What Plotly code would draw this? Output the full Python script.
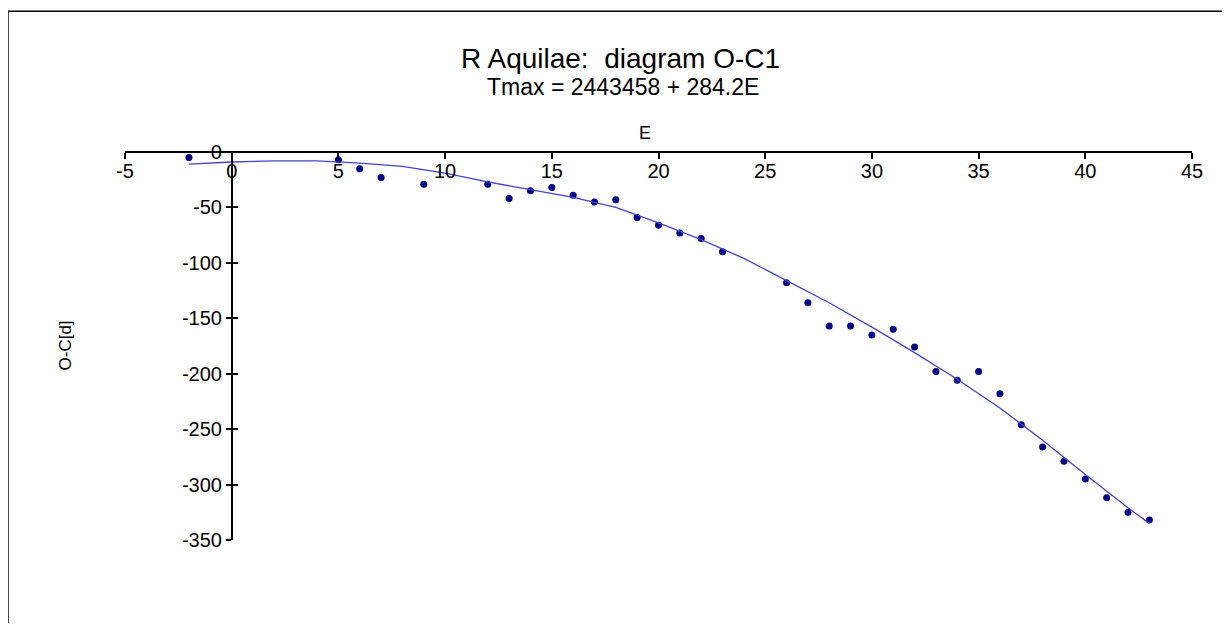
import plotly.graph_objects as go

# --- data ---
E_obs = [-2, 1, 5, 6, 7, 9, 12, 13, 14, 15, 16, 17, 18, 19, 20, 21, 22, 23,
         26, 27, 28, 29, 30, 31, 32, 33, 34, 35, 36, 37, 38, 39, 40, 41, 42, 43]
OC_obs = [-5, 1, -7, -15, -23, -29, -29, -42, -35, -32, -39, -45, -43, -59, -66, -73, -78, -90,
          -118, -136, -157, -157, -165, -160, -176, -198, -206, -198, -218, -246, -266, -279, -295, -312, -325, -332]

# trend line (quadratic fit as drawn)
E_fit = [-2, 0, 2, 4, 6, 8, 10, 12, 14, 16, 18, 20, 22, 24, 26, 28, 30, 32, 34, 36, 38, 40, 42, 43]
OC_fit = [-11, -9, -8, -8, -10, -13, -19, -27, -34, -41, -50, -64, -79, -96, -116, -136,
          -158, -181, -205, -231, -260, -291, -321, -335]

# tick labels (plain hyphen minus like the original)
x_ticks = [-5, 0, 5, 10, 15, 20, 25, 30, 35, 40, 45]
x_ticktext = ["-5", "0", "5", "10", "15", "20", "25", "30", "35", "40", "45"]
y_ticks = [0, -50, -100, -150, -200, -250, -300, -350]
y_ticktext = ["0", "-50", "-100", "-150", "-200", "-250", "-300", "-350"]

FONT = "Liberation Sans, Arial, sans-serif"
POINT_COLOR = "#000080"
LINE_COLOR = "#4444C4"

fig = go.Figure()

fig.add_trace(go.Scatter(
    x=E_fit, y=OC_fit, mode="lines", yaxis="y2",
    line=dict(color=LINE_COLOR, width=1.3),
    cliponaxis=False, showlegend=False,
))
fig.add_trace(go.Scatter(
    x=E_obs, y=OC_obs, mode="markers",
    marker=dict(color=POINT_COLOR, size=7, symbol="circle"),
    cliponaxis=False, showlegend=False,
))

# titles
fig.add_annotation(text="R Aquilae:  diagram O-C1", xref="paper", yref="paper",
                   x=0.4645, y=1.242, yanchor="middle", xanchor="center", showarrow=False,
                   font=dict(family=FONT, size=28, color="black"))
fig.add_annotation(text="Tmax = 2443458 + 284.2E", xref="paper", yref="paper",
                   x=0.4665, y=1.167, yanchor="middle", xanchor="center", showarrow=False,
                   font=dict(family=FONT, size=23, color="black"))
fig.add_annotation(text="E", xref="paper", yref="paper",
                   x=0.487, y=1.049, yanchor="middle", xanchor="center", showarrow=False,
                   font=dict(family=FONT, size=18, color="black"))
# y-axis title, far left as in the original
fig.add_annotation(text="O-C[d]", xref="paper", yref="paper",
                   x=-0.056, y=0.502, yanchor="middle", xanchor="center",
                   showarrow=False, textangle=-90,
                   font=dict(family=FONT, size=17, color="black"))

# outer frame (right and bottom edges run off the picture)
fig.add_shape(type="rect", xref="paper", yref="paper",
              x0=-0.1097, x1=1.06, y0=-0.3, y1=1.363,
              line=dict(color="black", width=1.5), fillcolor="rgba(0,0,0,0)")

# page body adds an 8px offset, so the figure is a bit smaller than the window
fig.update_layout(
    width=1222, height=615,
    margin=dict(l=117, r=38, t=144, b=83),
    plot_bgcolor="white", paper_bgcolor="white",
    font=dict(family=FONT, size=20, color="black"),
    xaxis=dict(
        range=[-5, 45], tickvals=x_ticks, ticktext=x_ticktext,
        side="bottom", anchor="free", position=1,
        showline=True, linecolor="black", linewidth=1.5,
        ticks="outside", ticklen=6, tickcolor="black", tickwidth=1.5,
        ticklabelstandoff=-5,
        showgrid=False, zeroline=False,
        tickfont=dict(size=20),
    ),
    yaxis=dict(
        range=[-350, 0], tickvals=y_ticks, ticktext=y_ticktext,
        anchor="free", position=0.1,
        showline=True, linecolor="black", linewidth=1.5,
        ticks="outside", ticklen=5, tickcolor="black", tickwidth=1.5,
        showgrid=False, zeroline=False,
        tickfont=dict(size=20),
    ),
    yaxis2=dict(
        matches="y", overlaying="y",
        anchor="free", position=0.1,
        tickvals=y_ticks,
        ticks="inside", ticklen=5, tickcolor="black", tickwidth=1.5,
        showticklabels=False, showline=False, showgrid=False, zeroline=False,
    ),
)

fig.write_html("out.html")
